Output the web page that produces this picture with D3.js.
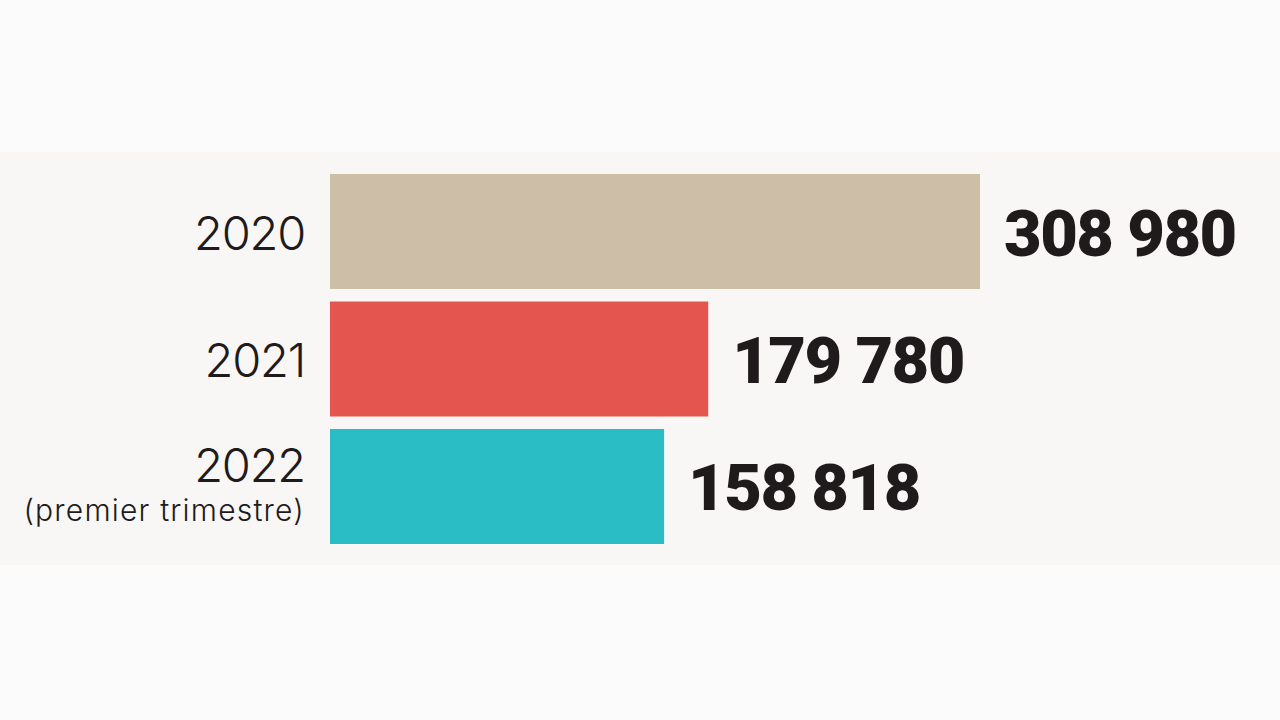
<!DOCTYPE html>
<html><head><meta charset="utf-8">
<script src="https://cdn.jsdelivr.net/npm/d3@7"></script>
<style>html,body{margin:0;padding:0;background:#fbfbfb;}svg{display:block;}</style>
</head><body>
<script>
const categories = ["2020", "2021", "2022"];
const subLabels = ["", "", "(premier trimestre)"];
const values = [308980, 179780, 158818];
const colors = ["#cdbea8", "#e5554f", "#2bbdc5"];

const W = 1280, H = 720;
const svg = d3.select("body").append("svg").attr("width", W).attr("height", H);
svg.append("rect").attr("width", W).attr("height", H).attr("fill", "#fbfbfb");
svg.append("rect").attr("x", 0).attr("y", 152).attr("width", W).attr("height", 413).attr("fill", "#f8f7f5");

const x = d3.scaleLinear().domain([0, 308980]).range([330, 980]);
const y = d3.scaleBand().domain(categories).range([174, 544]).paddingInner(0.098).paddingOuter(0);

const fmt = v => d3.format(",")(v).replace(/,/g, " ");

const g = svg.append("g");
const rows = categories.map((c, i) => ({c, v: values[i], col: colors[i], sub: subLabels[i]}));

g.selectAll("rect.bar").data(rows).join("rect").attr("class", "bar")
  .attr("x", x(0)).attr("y", d => y(d.c))
  .attr("width", d => x(d.v) - x(0)).attr("height", y.bandwidth())
  .attr("fill", d => d.col);

g.selectAll("text.val").data(rows).join("text").attr("class", "val")
  .attr("x", d => x(d.v) + 24)
  .attr("y", d => y(d.c) + y.bandwidth() / 2 + 24)
  .attr("font-family", "Roboto, sans-serif").attr("font-weight", 900)
  .attr("font-size", 65).attr("letter-spacing", -1.5)
  .attr("fill", "#1f1b1c")
  .text(d => fmt(d.v));

g.selectAll("text.cat").data(rows).join("text").attr("class", "cat")
  .attr("x", 305)
  .attr("y", d => y(d.c) + y.bandwidth() / 2 + (d.sub ? -4 : 18))
  .attr("text-anchor", "end")
  .attr("font-family", "Inter, sans-serif").attr("font-weight", 300)
  .attr("font-size", 47).attr("letter-spacing", -1.2)
  .attr("fill", "#1f1b1c")
  .text(d => d.c);

g.selectAll("text.sub").data(rows.filter(d => d.sub)).join("text").attr("class", "sub")
  .attr("x", 305)
  .attr("y", d => y(d.c) + y.bandwidth() / 2 + 35)
  .attr("text-anchor", "end")
  .attr("font-family", "Inter, sans-serif").attr("font-weight", 300)
  .attr("font-size", 30).attr("letter-spacing", 1.2)
  .attr("fill", "#1f1b1c")
  .text(d => d.sub);
</script>
</body></html>
